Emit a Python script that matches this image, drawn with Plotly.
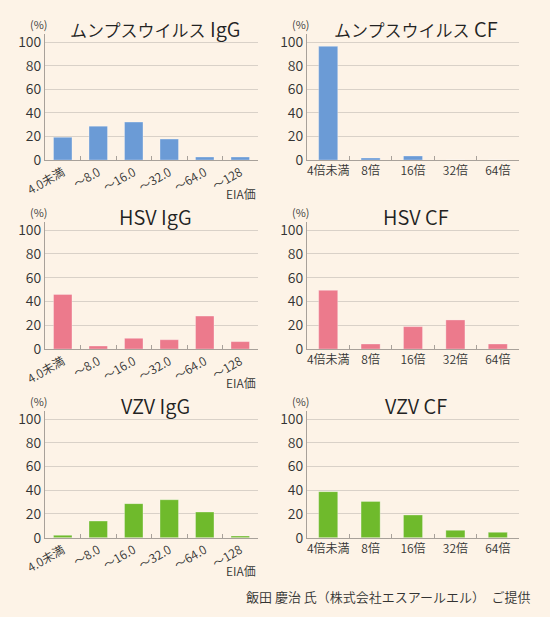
import plotly.graph_objects as go

# ---- data ----
igg_categories = ["4.0未満", "〜8.0", "〜16.0", "〜32.0", "〜64.0", "〜128"]
cf_categories = ["4倍未満", "8倍", "16倍", "32倍", "64倍"]

mumps_igg = [19.2, 28.7, 32.1, 17.7, 2.5, 2.5]
mumps_cf = [96.3, 1.7, 3.4, 0, 0]
hsv_igg = [45.9, 2.5, 9.0, 7.8, 27.7, 6.2]
hsv_cf = [49.3, 4.2, 18.8, 24.4, 4.2]
vzv_igg = [2.0, 14.0, 28.7, 32.0, 21.6, 1.4]
vzv_cf = [38.8, 30.6, 19.1, 6.2, 4.5]

titles = [
    "<span style='font-size:17px'>ムンプスウイルス</span> IgG",
    "<span style='font-size:17px'>ムンプスウイルス</span> CF",
    "HSV IgG", "HSV CF", "VZV IgG", "VZV CF",
]
y_ticks = [0, 20, 40, 60, 80, 100]
credit = "飯田 慶治 氏（株式会社エスアールエル）　ご提供"

BLUE = "#6b9bd6"
PINK = "#ec7a8c"
GREEN = "#6fba2c"
BG = "#fdf3e7"
FONT = "Noto Sans CJK JP"
TXT = "#333333"
WT = 350

W, H = 550, 617

def px_x(p):
    return p / W

def px_y(p):
    return 1 - p / H

left_x = (45, 258)
right_x = (307, 519)
rows = [(160, 1.18), (349, 1.19), (537.7, 1.187)]
YMAX = 107

panels = [
    (mumps_igg, igg_categories, BLUE, left_x, rows[0], True),
    (mumps_cf, cf_categories, BLUE, right_x, rows[0], False),
    (hsv_igg, igg_categories, PINK, left_x, rows[1], True),
    (hsv_cf, cf_categories, PINK, right_x, rows[1], False),
    (vzv_igg, igg_categories, GREEN, left_x, rows[2], True),
    (vzv_cf, cf_categories, GREEN, right_x, rows[2], False),
]

fig = go.Figure()
annotations = []
layout_axes = {}

for i, (vals, cats, color, (x0, x1), (y0, ppu), is_igg) in enumerate(panels):
    n = i + 1
    xa = "x" if n == 1 else f"x{n}"
    ya = "y" if n == 1 else f"y{n}"
    fig.add_trace(go.Bar(
        x=cats, y=vals, xaxis=xa, yaxis=ya,
        marker=dict(color=color, line=dict(color="rgba(255,255,255,0.5)", width=0.6)),
        width=0.52 if is_igg else 0.45,
        showlegend=False, hoverinfo="x+y",
    ))
    ytop = y0 - YMAX * ppu
    xkey = "xaxis" if n == 1 else f"xaxis{n}"
    ykey = "yaxis" if n == 1 else f"yaxis{n}"
    layout_axes[xkey] = dict(
        domain=[px_x(x0), px_x(x1)], anchor=ya, automargin=False,
        type="category", showgrid=False, showline=True, linecolor="#a8a19a", linewidth=1,
        ticks="inside", tickson="boundaries", ticklen=4, tickcolor="#a8a19a",
        tickangle=-30 if is_igg else 0,
        tickfont=dict(family=FONT, size=12, color=TXT, weight=WT),
        fixedrange=True,
    )
    layout_axes[ykey] = dict(
        domain=[px_y(y0), px_y(ytop)], anchor=xa, automargin=False,
        range=[0, YMAX], tickvals=y_ticks, showgrid=True, gridcolor="#d9d1c8", gridwidth=1,
        showline=True, linecolor="#a8a19a", linewidth=1, zeroline=False,
        ticks="", tickfont=dict(family=FONT, size=14, color=TXT, weight=WT),
        fixedrange=True,
    )
    annotations.append(dict(
        text=titles[i], xref="paper", yref="paper",
        x=px_x(155 if is_igg else 416), y=px_y(ytop - 5),
        xanchor="center", yanchor="middle", showarrow=False,
        font=dict(family=FONT, size=20, color="#222222", weight=WT),
    ))
    annotations.append(dict(
        text="(%)", xref="paper", yref="paper",
        x=px_x(x0 - 7), y=px_y(ytop - 10),
        xanchor="center", yanchor="middle", showarrow=False,
        font=dict(family=FONT, size=11, color=TXT, weight=WT),
    ))
    if is_igg:
        annotations.append(dict(
            text="EIA価", xref="paper", yref="paper",
            x=px_x(258), y=px_y(y0 + 33),
            xanchor="right", yanchor="middle", showarrow=False,
            font=dict(family=FONT, size=12, color=TXT, weight=WT),
        ))

annotations.append(dict(
    text=credit, xref="paper", yref="paper",
    x=px_x(533), y=px_y(596), xanchor="right", yanchor="middle", showarrow=False,
    font=dict(family=FONT, size=13, color=TXT, weight=WT),
))

fig.update_layout(
    width=W, height=H, autosize=False,
    margin=dict(l=0, r=0, t=0, b=0),
    paper_bgcolor=BG, plot_bgcolor=BG,
    font=dict(family=FONT, color=TXT),
    annotations=annotations,
    **layout_axes,
)

fig.write_html(
    "out.html",
    config={"displayModeBar": False},
    post_script="document.body.style.margin='0';document.body.style.background='%s';" % BG,
)
